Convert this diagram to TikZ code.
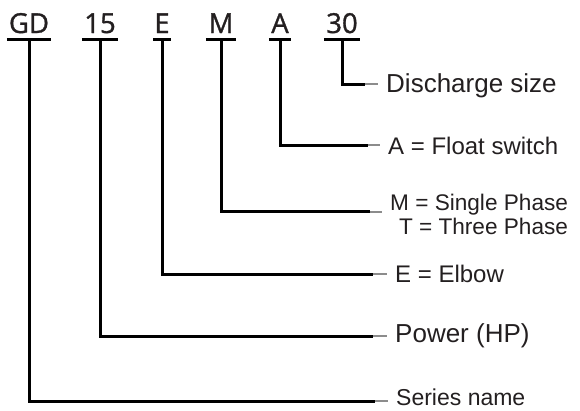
\documentclass[tikz,border=0pt]{standalone}
\usepackage{fontspec}
\setmainfont{Liberation Sans}
\newfontfamily\codefont[FakeBold=1.2]{Open Sans}
\definecolor{ink}{HTML}{231F20}
\definecolor{tickgray}{HTML}{8C8C8C}
\tikzset{
  code/.style={anchor=base, inner xsep=0pt, inner ysep=6pt, text=ink,
    font=\codefont\fontsize{27.5}{32}\selectfont},
  bar/.style={line width=3pt},
  lead/.style={line width=3pt},
  tick/.style={line width=2.5pt, tickgray},
  lbl/.style={anchor=base west, inner xsep=8pt, inner ysep=0pt, text=ink},
}
\begin{document}
\begin{tikzpicture}[x=1pt, y=-1pt]
    \useasboundingbox (0,0) rectangle (580,410);

    \node[code, minimum width=44pt] (gd) at (29, 33) {GD};
    \node[code, minimum width=36pt] (hp) at (100, 33) {15};
    \node[code, minimum width=17pt] (el) at (162, 33) {E};
    \node[code, minimum width=30pt] (ph) at (221, 33) {M};
    \node[code, minimum width=22pt] (fs) at (280, 33) {A};
    \node[code, minimum width=36pt] (ds) at (342, 33) {30};
    \foreach \c in {gd, hp, el, ph, fs, ds}
        \draw[bar] (\c.south west) -- (\c.south east);

    \coordinate (size-end) at (365, 84);
    \coordinate (float-end) at (368, 145);
    \coordinate (phase-end) at (370, 211);
    \coordinate (elbow-end) at (373, 274);
    \coordinate (power-end) at (373, 336);
    \coordinate (series-end) at (375, 401);

    \node[lbl, font=\fontsize{26}{30}\selectfont] (size) at (378, 92) {Discharge size};
    \node[lbl, font=\fontsize{24}{28}\selectfont] (float) at (380, 154) {A = Float switch};
    \node[lbl, font=\fontsize{22.6}{26}\selectfont] (phase) at (382, 210) {M = Single Phase};
    \node[lbl, anchor=base east, font=\fontsize{22.6}{26}\selectfont] (phase-t)
        at ([yshift=-24pt]phase.base east) {T = Three Phase};
    \node[lbl, font=\fontsize{24}{28}\selectfont] (elbow) at (387, 282) {E = Elbow};
    \node[lbl, font=\fontsize{26}{30}\selectfont] (power) at (387, 342) {Power (HP)};
    \node[lbl, font=\fontsize{23}{27}\selectfont] (series) at (388, 405) {Series name};

    \draw[lead] (ds.south) |- (size-end);
    \draw[lead] (fs.south) |- (float-end);
    \draw[lead] (ph.south) |- (phase-end);
    \draw[lead] (el.south) |- (elbow-end);
    \draw[lead] (hp.south) |- (power-end);
    \draw[lead] (gd.south) |- (series-end);

    \draw[tick] (size-end) -- (size-end -| size.west);
    \draw[tick] (float-end) -- (float-end -| float.west);
    \draw[tick] ([yshift=-1pt]phase-end) -- ([yshift=-1pt]phase-end -| phase.west);
    \draw[tick] (elbow-end) -- (elbow-end -| elbow.west);
    \draw[tick] (power-end) -- (power-end -| power.west);
    \draw[tick] (series-end) -- (series-end -| series.west);
\end{tikzpicture}
\end{document}
